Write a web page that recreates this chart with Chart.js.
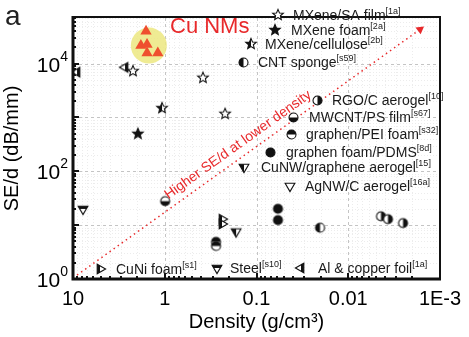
<!DOCTYPE html>
<html>
<head>
<meta charset="utf-8">
<script src="https://cdn.jsdelivr.net/npm/chart.js@4.4.0/dist/chart.umd.min.js"></script>
<style>
html, body { margin: 0; padding: 0; background: #fff; }
#wrap { width: 469px; height: 337px; }
</style>
</head>
<body>
<div id="wrap"><canvas id="chart" width="469" height="337"></canvas></div>
<script>
// ---- data: [density g/cm3, SE/d dB/mm] ----
const cuNMs        = [[1.60, 39800], [1.82, 21600], [1.56, 22500], [1.56, 15600], [1.19, 15600]];
const cuHighlight  = [[1.49, 21600]];
const mxeneSA      = [[2.22, 7230], [0.383, 5440], [0.220, 1165]];
const mxeneFoam    = [[1.96, 497]];
const mxeneCell    = [[1.07, 1490]];
const cntSponge    = [[0.0203, 8.95]];
const rgoAerogel   = [[0.0044, 14.6], [0.00369, 12.9], [0.00253, 10.9]];
const mwcntPS      = [[0.99, 27.9]];
const graphenPEI   = [[0.276, 4.9], [0.276, 4.1]];
const graphenPDMS  = [[0.0583, 20.1], [0.0583, 12.4]];
const cuNWAerogel  = [[0.167, 7.6]];
const agNWAerogel  = [];
const cuNiFoam     = [[0.238, 12.9], [0.238, 10.5]];
const steel        = [[7.78, 20]];
const alCuFoil     = [[9.04, 6920], [2.71, 8500]];
const trendArrow   = [[9.04, 1.18], [0.00165, 43000]];

const xTickLabels = { 10: '10', 1: '1', 0.1: '0.1', 0.01: '0.01', 0.001: '1E-3' };
const yTickLabels = [[1, '0'], [100, '2'], [10000, '4']];

// name, ref, data, marker shape, fill
const series = [
    ['MXene/SA film', '[1a]', mxeneSA, 'star', 'none'],
    ['MXene foam', '[2a]', mxeneFoam, 'star', 'full'],
    ['MXene/cellulose', '[2b]', mxeneCell, 'star', 'left'],
    ['CNT sponge', '[s59]', cntSponge, 'circle', 'left'],
    ['RGO/C aerogel', '[10]', rgoAerogel, 'circle', 'right'],
    ['MWCNT/PS film', '[s67]', mwcntPS, 'circle', 'bottom'],
    ['graphen/PEI foam', '[s32]', graphenPEI, 'circle', 'top'],
    ['graphen foam/PDMS', '[8d]', graphenPDMS, 'circle', 'full'],
    ['CuNW/graphene aerogel', '[15]', cuNWAerogel, 'triDown', 'left'],
    ['AgNW/C aerogel', '[16a]', agNWAerogel, 'triDown', 'none'],
    ['CuNi foam', '[s1]', cuNiFoam, 'triRight', 'left'],
    ['Steel', '[s10]', steel, 'triDown', 'top'],
    ['Al & copper foil', '[1a]', alCuFoil, 'triLeft', 'right']
];

// legend placement inside the plot (marker x, marker y, text x), pixels
const legendSpots = [
    [278, 15, 293], [275, 30, 291], [251, 44, 265], [243, 62, 258],
    [317, 100, 332], [293, 117, 309], [291, 134, 306], [270, 152, 286],
    [244, 167, 261], [290, 186, 305], [100, 269, 116], [217, 268, 230],
    [301, 268, 318]
];

const FONT = "'Liberation Sans', Arial, Helvetica, sans-serif";
const RED = '#e8292b';
const TRI_RED = '#ef4f2e';
const INK = '#111';

function markerPath(g, shape, c, r) {
    g.beginPath();
    if (shape === 'circle') {
        g.arc(c, c, r, 0, Math.PI * 2);
    } else if (shape === 'star') {
        for (let i = 0; i < 10; i++) {
            const a = -Math.PI / 2 + i * Math.PI / 5;
            const rr = i % 2 ? r * 0.45 : r;
            g.lineTo(c + rr * Math.cos(a), c + rr * Math.sin(a));
        }
        g.closePath();
    } else {
        const ang = { triUp: -90, triDown: 90, triLeft: 180, triRight: 0 }[shape] * Math.PI / 180;
        for (let i = 0; i < 3; i++) {
            const a = ang + i * 2 * Math.PI / 3;
            g.lineTo(c + r * Math.cos(a), c + r * Math.sin(a));
        }
        g.closePath();
    }
}

function makeMarker(shape, fill) {
    const r = shape === 'circle' ? 4.5 : 5.6;
    const size = Math.ceil(r * 2 + 4);
    const c = size / 2;
    const cv = document.createElement('canvas');
    cv.width = cv.height = size;
    const g = cv.getContext('2d');
    markerPath(g, shape, c, r);
    g.fillStyle = '#fff';
    g.fill();
    g.save();
    markerPath(g, shape, c, r);
    g.clip();
    g.fillStyle = INK;
    if (fill === 'full') g.fillRect(0, 0, size, size);
    else if (fill === 'left') g.fillRect(0, 0, c, size);
    else if (fill === 'right') g.fillRect(c, 0, size, size);
    else if (fill === 'top') g.fillRect(0, 0, size, c);
    else if (fill === 'bottom') g.fillRect(0, c, size, size);
    g.restore();
    markerPath(g, shape, c, r);
    g.strokeStyle = INK;
    g.lineWidth = 1.1;
    g.stroke();
    return cv;
}

const toPts = arr => arr.map(([x, y]) => ({ x, y }));
const markers = series.map(s => makeMarker(s[3], s[4]));

const datasets = [
    {
        label: 'highlight', data: toPts(cuHighlight), order: 20,
        pointRadius: 18, pointBackgroundColor: 'rgba(236,231,128,0.85)', pointBorderWidth: 0
    },
    {
        label: 'trend', data: toPts(trendArrow), order: 15, showLine: true,
        borderColor: RED, borderWidth: 1.5, borderDash: [1.5, 3.5],
        pointRadius: [0, 5], pointStyle: 'triangle', pointRotation: 53,
        pointBackgroundColor: RED, pointBorderWidth: 0
    },
    {
        label: 'Cu NMs', data: toPts(cuNMs), order: 1,
        pointStyle: 'triangle', pointRadius: 6.5,
        pointBackgroundColor: TRI_RED, pointBorderColor: TRI_RED, pointBorderWidth: 0
    }
];
series.forEach((s, i) => {
    datasets.push({
        label: s[0], data: toPts(s[2]), order: 5,
        pointStyle: markers[i], pointRadius: 6
    });
});

function drawText(g, parts, x, y) {
    // parts: [text, size, raise]
    let cx = x;
    parts.forEach(([t, size, raise]) => {
        g.font = size + 'px ' + FONT;
        g.fillText(t, cx, y - raise);
        cx += g.measureText(t).width;
    });
}

const decorPlugin = {
    id: 'decor',
    beforeDatasetsDraw(chart) {
        const g = chart.ctx;
        const a = chart.chartArea;
        const xs = chart.scales.x, ys = chart.scales.y;
        g.save();
        g.lineWidth = 1;
        const xVals = [], yVals = [];
        for (let e = -3; e <= 0; e++) for (let m = 1; m <= 9; m++) xVals.push([m * Math.pow(10, e), m === 1]);
        xVals.push([10, true]);
        for (let e = 0; e <= 4; e++) for (let m = 1; m <= 9; m++) {
            const v = m * Math.pow(10, e);
            if (v <= ys.max) yVals.push([v, m === 1]);
        }
        xVals.forEach(([v, major]) => {
            const px = Math.round(xs.getPixelForValue(v)) + 0.5;
            g.strokeStyle = major ? '#c4c4c4' : '#ececec';
            g.setLineDash(major ? [3, 3] : [1, 2]);
            g.beginPath(); g.moveTo(px, a.top); g.lineTo(px, a.bottom); g.stroke();
        });
        yVals.forEach(([v, major]) => {
            const py = Math.round(ys.getPixelForValue(v)) + 0.5;
            g.strokeStyle = major ? '#c4c4c4' : '#ececec';
            g.setLineDash(major ? [3, 3] : [1, 2]);
            g.beginPath(); g.moveTo(a.left, py); g.lineTo(a.right, py); g.stroke();
        });
        g.setLineDash([]);
        // inward ticks on left and bottom
        g.strokeStyle = INK;
        g.lineWidth = 2;
        xVals.forEach(([v, major]) => {
            const px = Math.round(xs.getPixelForValue(v));
            g.beginPath(); g.moveTo(px, a.bottom); g.lineTo(px, a.bottom - (major ? 6 : 3)); g.stroke();
        });
        yVals.forEach(([v, major]) => {
            const py = Math.round(ys.getPixelForValue(v));
            g.beginPath(); g.moveTo(a.left, py); g.lineTo(a.left + (major ? 6 : 3), py); g.stroke();
        });
        g.restore();
    },
    afterDatasetsDraw(chart) {
        const g = chart.ctx;
        const a = chart.chartArea;
        const xs = chart.scales.x, ys = chart.scales.y;
        g.save();
        // frame
        g.strokeStyle = INK;
        g.lineWidth = 2;
        g.strokeRect(a.left, a.top - 1, a.right - a.left, a.bottom - a.top + 1);
        g.lineWidth = 3;
        g.beginPath();
        g.moveTo(a.left, a.top - 2); g.lineTo(a.left, a.bottom); g.lineTo(a.right + 1, a.bottom);
        g.stroke();

        // tick labels
        g.fillStyle = '#000';
        g.textBaseline = 'alphabetic';
        g.font = '20px ' + FONT;
        g.textAlign = 'center';
        Object.keys(xTickLabels).forEach(k => {
            const px = xs.getPixelForValue(parseFloat(k));
            g.fillText(xTickLabels[k], px, 305);
        });
        g.textAlign = 'left';
        yTickLabels.forEach(([v, ex]) => {
            const py = ys.getPixelForValue(v);
            g.font = '14px ' + FONT;
            const ew = g.measureText(ex).width;
            g.font = '21px ' + FONT;
            const bw = g.measureText('10').width;
            const right = 68;
            g.fillText('10', right - ew - bw, py + 8);
            g.font = '14px ' + FONT;
            g.fillText(ex, right - ew, py - 3);
        });

        // legend entries
        g.fillStyle = '#1a1a1a';
        series.forEach((s, i) => {
            const [mx, my, tx] = legendSpots[i];
            const img = markers[i];
            g.drawImage(img, Math.round(mx - img.width / 2), Math.round(my - img.height / 2));
            drawText(g, [[s[0], 14, 0], [s[1], 9, 6]], tx, my + 5);
        });

        // Cu NMs label
        g.fillStyle = RED;
        g.font = '22px ' + FONT;
        g.fillText('Cu NMs', 170, 33);

        // trend text along the arrow
        const p0 = { x: xs.getPixelForValue(trendArrow[0][0]), y: ys.getPixelForValue(trendArrow[0][1]) };
        const p1 = { x: xs.getPixelForValue(trendArrow[1][0]), y: ys.getPixelForValue(trendArrow[1][1]) };
        const ang = Math.atan2(p1.y - p0.y, p1.x - p0.x);
        const t = 0.49;
        const cx = p0.x + (p1.x - p0.x) * t + Math.sin(ang) * 12;
        const cy = p0.y + (p1.y - p0.y) * t - Math.cos(ang) * 12;
        g.translate(cx, cy);
        g.rotate(ang);
        g.font = '14px ' + FONT;
        g.textAlign = 'center';
        g.textBaseline = 'middle';
        g.fillText('Higher SE/d at lower density', 0, 0);
        g.restore();

        // panel letter
        g.save();
        g.fillStyle = '#222';
        g.font = '28px ' + FONT;
        g.fillText('a', 5, 25);
        g.restore();
    }
};

new Chart(document.getElementById('chart'), {
    type: 'scatter',
    data: { datasets },
    options: {
        responsive: false,
        animation: false,
        layout: { padding: { left: 0, right: 29, top: 4, bottom: 0 } },
        plugins: { legend: { display: false }, tooltip: { enabled: false } },
        scales: {
            x: {
                type: 'logarithmic', min: 0.001, max: 10, reverse: true,
                grid: { display: false }, border: { display: false },
                ticks: { display: false },
                title: { display: true, text: 'Density (g/cm³)', color: '#000', font: { family: FONT, size: 20 }, padding: { top: 0, bottom: 3 } },
                afterFit: s => { s.height = 58; }
            },
            y: {
                type: 'logarithmic', min: 1, max: 70000,
                grid: { display: false }, border: { display: false },
                ticks: { display: false },
                title: { display: true, text: 'SE/d (dB/mm)', color: '#000', font: { family: FONT, size: 20 }, padding: { top: 0, bottom: 0 } },
                afterFit: s => { s.width = 73; }
            }
        }
    },
    plugins: [decorPlugin]
});
</script>
</body>
</html>
